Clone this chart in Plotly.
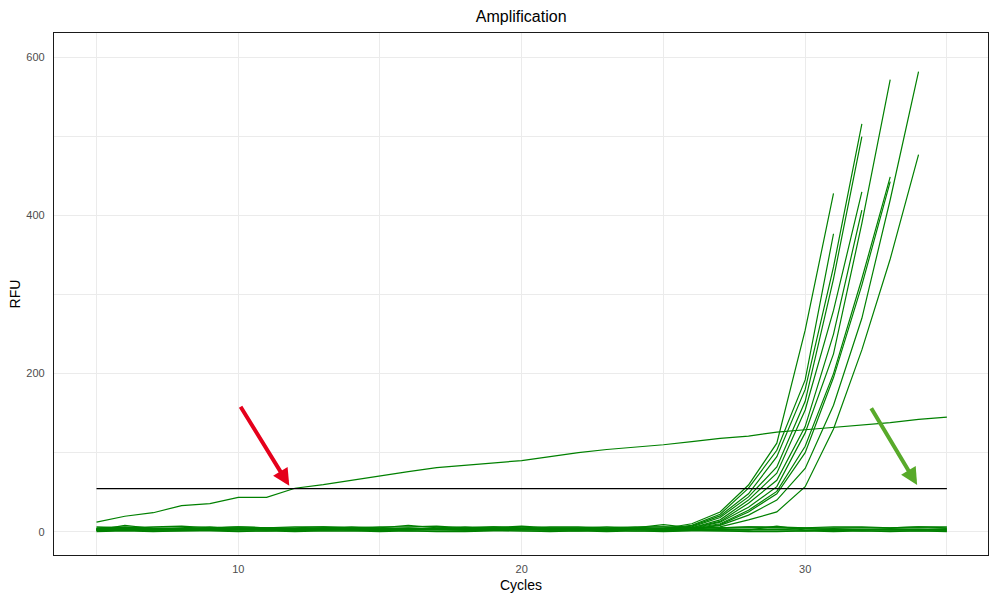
import plotly.graph_objects as go

# Cycle numbers shared by every well
cycles = list(range(5, 36))

# Wells that amplify: readings from cycle 5 until their last recorded cycle
amp_a = [3, 4, 3, 4, 3, 3, 4, 3, 3, 4, 3, 3, 4, 3, 4, 3, 3, 4, 3, 3, 4, 10, 25, 59, 112, 255, 428]
amp_b = [2, 3, 4, 3, 3, 4, 3, 2, 3, 3, 4, 3, 3, 4, 3, 3, 2, 3, 4, 3, 4, 8, 22, 55, 103, 192, 377]
amp_c = [4, 3, 3, 4, 4, 3, 3, 4, 3, 3, 3, 4, 4, 3, 3, 4, 3, 3, 3, 4, 3, 7, 20, 48, 95, 180, 335, 516]
amp_d = [3, 4, 4, 3, 3, 3, 4, 3, 4, 3, 3, 3, 3, 4, 3, 3, 4, 3, 3, 3, 3, 6, 18, 44, 82, 165, 320, 500]
amp_e = [2, 3, 3, 3, 4, 3, 3, 3, 3, 4, 3, 4, 3, 3, 4, 3, 3, 3, 4, 3, 3, 5, 15, 40, 74, 154, 280, 430]
amp_f = [3, 3, 2, 3, 3, 4, 3, 3, 4, 3, 3, 3, 4, 3, 3, 3, 4, 3, 3, 3, 3, 5, 13, 36, 65, 133, 250, 407]
amp_g = [3, 5, 3, 3, 3, 3, 4, 3, 3, 3, 4, 3, 3, 3, 3, 4, 3, 3, 3, 3, 3, 4, 12, 31, 57, 125, 225, 390, 572]
amp_h = [2, 3, 3, 3, 3, 3, 3, 4, 3, 3, 3, 3, 3, 3, 3, 3, 3, 4, 3, 3, 3, 4, 10, 27, 51, 108, 200, 320, 449]
amp_i = [3, 3, 3, 4, 3, 3, 3, 3, 3, 3, 3, 3, 4, 3, 3, 3, 3, 3, 3, 3, 2, 3, 9, 25, 48, 100, 195, 312, 443]
amp_k = [2, 3, 3, 3, 3, 3, 3, 3, 3, 3, 3, 3, 3, 3, 3, 3, 3, 3, 3, 3, 2, 3, 8, 21, 40, 80, 160, 270, 420, 582]
amp_l = [3, 3, 3, 3, 3, 3, 3, 3, 3, 3, 3, 3, 3, 3, 3, 3, 3, 3, 3, 3, 2, 3, 6, 15, 25, 57, 130, 230, 345, 477]

# Well with a slowly drifting baseline
drift = [12, 19.5, 24, 33, 35.5, 43.5, 43.5, 55, 59.5, 65, 71, 76, 81, 84, 87.5, 90,
         95, 100, 104, 107, 110, 114, 118, 121, 126, 129, 132, 135, 138, 142, 145]

# Wells that stay flat for the whole run
flat_1 = [3, 4, 3, 3, 4, 3, 4, 4, 3, 3, 4, 4, 3, 3, 4, 3, 4, 3, 3, 3, 4, 3, 3, 3, 3, 4, 3, 3, 3, 3, 3]
flat_2 = [2, 8, 4, 2, 3, 5, 3, 3, 4, 2, 3, 5, 3, 2, 3, 4, 3, 2, 4, 3, 3, 3, 2, 3, 3, 2, 3, 2, 3, 3, 2]
flat_3 = [1, 2, 1, 1, 2, 1, 1, 2, 1, 1, 2, 1, 1, 1, 2, 1, 1, 1, 2, 1, 1, 2, 1, 1, 1, 1, 2, 1, 1, 1, 1]
flat_4 = [5, 6, 5, 4, 5, 6, 5, 5, 6, 5, 5, 8, 5, 5, 6, 5, 5, 5, 6, 5, 9, 5, 5, 6, 5, 5, 4, 5, 5, 6, 5]
flat_5 = [0, 1, 0, 1, 1, 0, 1, 0, 1, 1, 0, 1, 0, 0, 1, 1, 0, 1, 0, 1, 0, 1, 1, 0, 0, 1, 0, 1, 0, 1, 0]
flat_6 = [4, 5, 4, 5, 6, 4, 5, 4, 5, 6, 5, 4, 5, 6, 5, 7, 5, 5, 4, 5, 6, 5, 4, 5, 5, 4, 5, 5, 4, 5, 4]
flat_7 = [2, 3, 2, 2, 3, 2, 2, 3, 2, 3, 2, 2, 3, 2, 2, 3, 2, 2, 2, 3, 2, 2, 3, 2, 7, 2, 2, 3, 2, 2, 2]
flat_8 = [6, 5, 6, 7, 5, 6, 5, 6, 6, 5, 6, 6, 7, 5, 6, 5, 6, 6, 5, 6, 6, 5, 5, 6, 6, 5, 6, 6, 5, 6, 6]

threshold = 54.5

# Callout arrows: (tail cycle, tail RFU, head cycle, head RFU)
red_arrow = (10.05, 160, 11.8, 58)
green_arrow = (32.3, 158, 33.95, 59)

wells = [flat_1, flat_2, flat_3, flat_4, flat_5, flat_6, flat_7, flat_8,
         amp_a, amp_b, amp_c, amp_d, amp_e, amp_f, amp_g, amp_h, amp_i, amp_k, amp_l,
         drift]

line_green = "#008000"
fig = go.Figure()
for rfu in wells:
    fig.add_trace(go.Scatter(
        x=cycles[:len(rfu)], y=rfu, mode="lines",
        line=dict(color=line_green, width=1.2),
        hoverinfo="skip", showlegend=False,
    ))

fig.add_trace(go.Scatter(
    x=[cycles[0], cycles[-1]], y=[threshold, threshold], mode="lines",
    line=dict(color="black", width=1.3), hoverinfo="skip", showlegend=False,
))

for (x0, y0, x1, y1), col in [(red_arrow, "#E5001B"), (green_arrow, "#58AA2A")]:
    fig.add_annotation(
        x=x1, y=y1, ax=x0, ay=y0, xref="x", yref="y", axref="x", ayref="y",
        text="", showarrow=True, arrowhead=2, arrowsize=0.85, arrowwidth=4,
        arrowcolor=col, standoff=0,
    )

font_family = "Liberation Sans, Arial, sans-serif"
grid_col = "#ebebeb"
fig.update_layout(
    width=989, height=593,
    margin=dict(l=54, r=1, t=33, b=38),
    paper_bgcolor="white", plot_bgcolor="white",
    font=dict(family=font_family, color="black"),
    title=dict(text="Amplification", x=0.527, xanchor="center", y=0.972, yanchor="middle",
               font=dict(size=16, color="black")),
    xaxis=dict(
        range=[3.5, 36.45], tick0=0, dtick=10, showgrid=True, gridcolor=grid_col, gridwidth=1,
        minor=dict(dtick=5, tick0=0, showgrid=True, gridcolor=grid_col, gridwidth=1),
        zeroline=False, showline=True, linecolor="#1a1a1a", linewidth=1.2, mirror=True,
        ticks="", tickfont=dict(size=11, color="#4d4d4d"), ticklabelstandoff=4,
        title=dict(text="Cycles", font=dict(size=14, color="black"), standoff=6),
    ),
    yaxis=dict(
        range=[-29.5, 631], tick0=0, dtick=200, showgrid=True, gridcolor=grid_col, gridwidth=1,
        minor=dict(dtick=100, tick0=0, showgrid=True, gridcolor=grid_col, gridwidth=1),
        zeroline=False, showline=True, linecolor="#1a1a1a", linewidth=1.2, mirror=True,
        ticks="", tickfont=dict(size=11, color="#4d4d4d"), ticklabelstandoff=6,
        title=dict(text="RFU", font=dict(size=14, color="black"), standoff=2),
    ),
)

fig.write_html("out.html")
